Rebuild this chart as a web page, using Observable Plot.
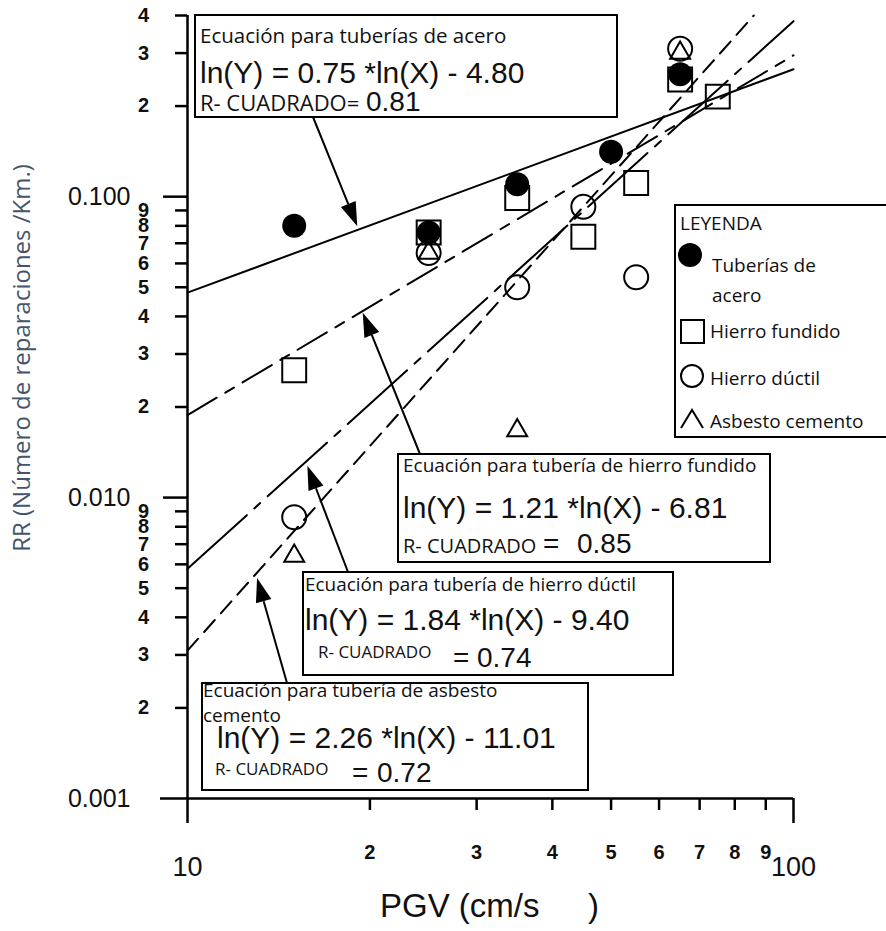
<!DOCTYPE html>
<html><head><meta charset="utf-8">
<script src="https://cdn.jsdelivr.net/npm/d3@7"></script>
<script src="https://cdn.jsdelivr.net/npm/@observablehq/plot@0.6"></script>
<style>body{margin:0;background:#fff} svg{display:block}</style>
</head><body><div id="chart"></div>
<script>
// ---------- data ----------
const pgvSteel = [15, 25, 35, 50, 65];
const rrSteel = [0.080, 0.076, 0.110, 0.141, 0.255];
const pgvCastIron = [15, 25, 35, 45, 55, 65, 75];
const rrCastIron = [0.0265, 0.076, 0.099, 0.0736, 0.111, 0.245, 0.215];
const pgvDuctile = [15, 25, 35, 45, 55, 65];
const rrDuctile = [0.0086, 0.065, 0.050, 0.0926, 0.054, 0.31];
const pgvAsbestos = [15, 25, 35, 65];
const rrAsbestos = [0.0064, 0.065, 0.0167, 0.30];

// fitted regression lines (end points)
const fitSteelPGV = [10, 100],    fitSteelRR = [0.048, 0.265];
const fitCastPGV = [10, 100],     fitCastRR = [0.0188, 0.295];
const fitDuctilePGV = [10, 100],  fitDuctileRR = [0.0058, 0.383];
const fitAsbestosPGV = [10, 86],  fitAsbestosRR = [0.0031, 0.40];

// ticks
const xMajorTicks = [10, 100];
const xMajorLabels = ["10", "100"];
const xMinorTicks = [20, 30, 40, 50, 60, 70, 80, 90];
const xMinorLabels = ["2", "3", "4", "5", "6", "7", "8", "9"];
const yMajorTicks = [0.001, 0.01, 0.1];
const yMajorLabels = ["0.001", "0.010", "0.100"];
const yMinorTicks = [0.002,0.003,0.004,0.005,0.006,0.007,0.008,0.009,
                     0.02,0.03,0.04,0.05,0.06,0.07,0.08,0.09,
                     0.2,0.3,0.4];
const yMinorLabels = ["2","3","4","5","6","7","8","9",
                      "2","3","4","5","6","7","8","9",
                      "2","3","4"];

// annotation texts
const eqSteel = ["Ecuación para tuberías de acero", "ln(Y) = 0.75 *ln(X) - 4.80", "R- CUADRADO=", "0.81"];
const eqCast = ["Ecuación para tubería de hierro fundido", "ln(Y) = 1.21 *ln(X) - 6.81", "R- CUADRADO", "0.85"];
const eqDuctile = ["Ecuación para tubería de hierro dúctil", "ln(Y) = 1.84 *ln(X) - 9.40", "R- CUADRADO", "0.74"];
const eqAsbestos = ["Ecuación para tubería de asbesto", "cemento", "ln(Y) = 2.26 *ln(X) - 11.01", "R- CUADRADO", "0.72"];
const legendLabels = ["LEYENDA", "Tuberías de", "acero", "Hierro fundido", "Hierro dúctil", "Asbesto cemento"];
const xTitle = ["PGV (cm/s", ")"];
const yTitle = "RR (Número de reparaciones /Km.)";

// arrow tips (data coordinates on the fitted lines)
const arrowTipPGV = [19.1, 19.5, 15.8, 13.05];
const arrowTipRR = [0.0794, 0.041, 0.0127, 0.00538];

// ---------- build ----------
const pts = (xs, ys) => xs.map((x, i) => ({pgv: x, rr: ys[i]}));
const AX = "Liberation Sans, Arial, sans-serif";
const OS = "Open Sans, sans-serif";

const plot = Plot.plot({
  width: 886, height: 931,
  marginLeft: 187, marginRight: 93, marginTop: 15, marginBottom: 133,
  x: {type: "log", domain: [10, 100], axis: null},
  y: {type: "log", domain: [0.001, 0.4], axis: null},
  style: {background: "white"},
  marks: [
    // axes
    Plot.ruleY([0.001], {insetLeft: -27, stroke: "black", strokeWidth: 2.5}),
    Plot.ruleX([10], {insetBottom: -25, stroke: "black", strokeWidth: 2.5}),
    Plot.ruleX([100], {x: d => d, y1: 0.001, y2: 0.001, insetBottom: -25, stroke: "black", strokeWidth: 2.5}),
    Plot.ruleX(xMinorTicks, {x: d => d, y1: 0.001, y2: 0.001, insetBottom: -12, stroke: "black", strokeWidth: 2.5}),
    Plot.ruleY(yMinorTicks, {y: d => d, x1: 10, x2: 10, insetLeft: -12, stroke: "black", strokeWidth: 2.5}),
    Plot.ruleY([0.01, 0.1], {y: d => d, x1: 10, x2: 10, insetLeft: -24, stroke: "black", strokeWidth: 2.5}),
    // tick labels
    Plot.text(yMinorTicks, {x: 10, y: d => d, text: (d, i) => yMinorLabels[i], dx: -44, textAnchor: "middle",
      fontSize: 20, fontWeight: "bold", fontFamily: AX, fill: "#111"}),
    Plot.text(yMajorTicks, {x: 10, y: d => d, text: (d, i) => yMajorLabels[i], dx: -57, textAnchor: "end",
      fontSize: 25, fontFamily: AX, fill: "#111"}),
    Plot.text(xMinorTicks, {x: d => d, y: 0.001, text: (d, i) => xMinorLabels[i], dy: 54, textAnchor: "middle",
      fontSize: 20, fontWeight: "bold", fontFamily: AX, fill: "#111"}),
    Plot.text(xMajorTicks, {x: d => d, y: 0.001, text: (d, i) => xMajorLabels[i], dy: 69, textAnchor: "middle",
      fontSize: 27, fontFamily: AX, fill: "#111"}),
    // fitted lines
    Plot.line(pts(fitSteelPGV, fitSteelRR), {x: "pgv", y: "rr", stroke: "black", strokeWidth: 2}),
    Plot.line(pts(fitCastPGV, fitCastRR), {x: "pgv", y: "rr", stroke: "black", strokeWidth: 2, strokeDasharray: "34,10,10,10"}),
    Plot.line(pts(fitDuctilePGV, fitDuctileRR), {x: "pgv", y: "rr", stroke: "black", strokeWidth: 2, strokeDasharray: "80,10,8,10"}),
    Plot.line(pts(fitAsbestosPGV, fitAsbestosRR), {x: "pgv", y: "rr", stroke: "black", strokeWidth: 2, strokeDasharray: "16,9"}),
    // points
    Plot.dot(pts(pgvCastIron, rrCastIron), {x: "pgv", y: "rr", symbol: "square", r: 13.5, fill: "none", stroke: "black", strokeWidth: 2}),
    Plot.dot(pts(pgvDuctile, rrDuctile), {x: "pgv", y: "rr", symbol: "circle", r: 12, fill: "none", stroke: "black", strokeWidth: 2}),
    Plot.dot(pts(pgvAsbestos, rrAsbestos), {x: "pgv", y: "rr", symbol: "triangle", r: 7.4, fill: "none", stroke: "black", strokeWidth: 2}),
    Plot.dot(pts(pgvSteel, rrSteel), {x: "pgv", y: "rr", symbol: "circle", r: 12, fill: "black", stroke: "none"})
  ]
});
document.getElementById("chart").appendChild(plot);

// ---------- annotations (layout in pixels) ----------
const svg = d3.select(plot);
const sx = plot.scale("x"), sy = plot.scale("y");
const g = svg.append("g").attr("text-anchor", "start");

function box(x0, y0, x1, y1) {
  g.append("rect").attr("x", x0).attr("y", y0).attr("width", x1 - x0).attr("height", y1 - y0)
    .attr("fill", "white").attr("stroke", "black").attr("stroke-width", 2);
}
function txt(x, y, s, size, family, extra = {}) {
  return g.append("text").attr("x", x).attr("y", y).text(s)
    .attr("font-size", size).attr("font-family", family).attr("fill", extra.fill || "#111")
    .attr("text-anchor", extra.anchor || "start");
}
function arrow(tx, ty, i) {
  const hx = sx.apply(arrowTipPGV[i]), hy = sy.apply(arrowTipRR[i]);
  const dx = hx - tx, dy = hy - ty, len = Math.hypot(dx, dy);
  const ux = dx / len, uy = dy / len, L = 24, W = 8;
  const bx = hx - ux * L, by = hy - uy * L;
  g.append("line").attr("x1", tx).attr("y1", ty).attr("x2", bx).attr("y2", by)
    .attr("stroke", "black").attr("stroke-width", 2);
  g.append("path").attr("d", `M${hx},${hy}L${bx - uy * W},${by + ux * W}L${bx + uy * W},${by - ux * W}Z`)
    .attr("fill", "black");
}

// steel box
arrow(313, 117, 0);
box(195, 15, 617, 117);
txt(200, 43, eqSteel[0], 20.5, OS);
txt(200, 83, eqSteel[1], 30, AX);
txt(200, 111, eqSteel[2], 22, OS);
txt(366, 111, eqSteel[3], 28, AX);

// cast iron box
arrow(420, 454, 1);
box(398, 454, 770, 562);
txt(403, 472, eqCast[0], 19, OS);
txt(403, 518, eqCast[1], 30, AX);
txt(403, 553, eqCast[2], 20, OS);
txt(543, 553, "=", 28, AX);
txt(577, 553, eqCast[3], 28, AX);

// ductile box
arrow(348, 572, 2);
box(303, 572, 673, 675);
txt(305, 591, eqDuctile[0], 18.9, OS);
txt(305, 630, eqDuctile[1], 30, AX);
txt(318, 658, eqDuctile[2], 17, OS);
txt(453, 667, "=", 28, AX);
txt(477, 667, eqDuctile[3], 28, AX);

// asbestos box
arrow(287, 683, 3);
box(202, 683, 588, 790);
txt(203, 697, eqAsbestos[0], 19, OS);
txt(203, 722, eqAsbestos[1], 19, OS);
txt(217, 748, eqAsbestos[2], 30, AX);
txt(215, 775, eqAsbestos[3], 17, OS);
txt(352, 782, "=", 28, AX);
txt(377, 782, eqAsbestos[4], 28, AX);

// legend
box(675, 205, 900, 437);
txt(680, 230, legendLabels[0], 19, OS);
g.append("circle").attr("cx", 690).attr("cy", 255).attr("r", 12).attr("fill", "black");
txt(712, 272, legendLabels[1], 19, OS);
txt(712, 302, legendLabels[2], 19, OS);
g.append("rect").attr("x", 681).attr("y", 320).attr("width", 23).attr("height", 23)
  .attr("fill", "none").attr("stroke", "black").attr("stroke-width", 2);
txt(710, 338, legendLabels[3], 19, OS);
g.append("circle").attr("cx", 692).attr("cy", 376).attr("r", 11).attr("fill", "none")
  .attr("stroke", "black").attr("stroke-width", 2);
txt(710, 385, legendLabels[4], 19, OS);
g.append("path").attr("d", "M681,428L692,410L703,428").attr("fill", "none")
  .attr("stroke", "black").attr("stroke-width", 2);
txt(710, 428, legendLabels[5], 19, OS);

// axis titles
txt(380, 917, xTitle[0], 33, AX);
txt(588, 917, xTitle[1], 33, AX);
g.append("text").attr("transform", "translate(30,358) rotate(-90)")
  .attr("text-anchor", "middle").attr("font-size", 24).attr("font-family", OS)
  .attr("fill", "#44546a").text(yTitle);
</script>
</body></html>
